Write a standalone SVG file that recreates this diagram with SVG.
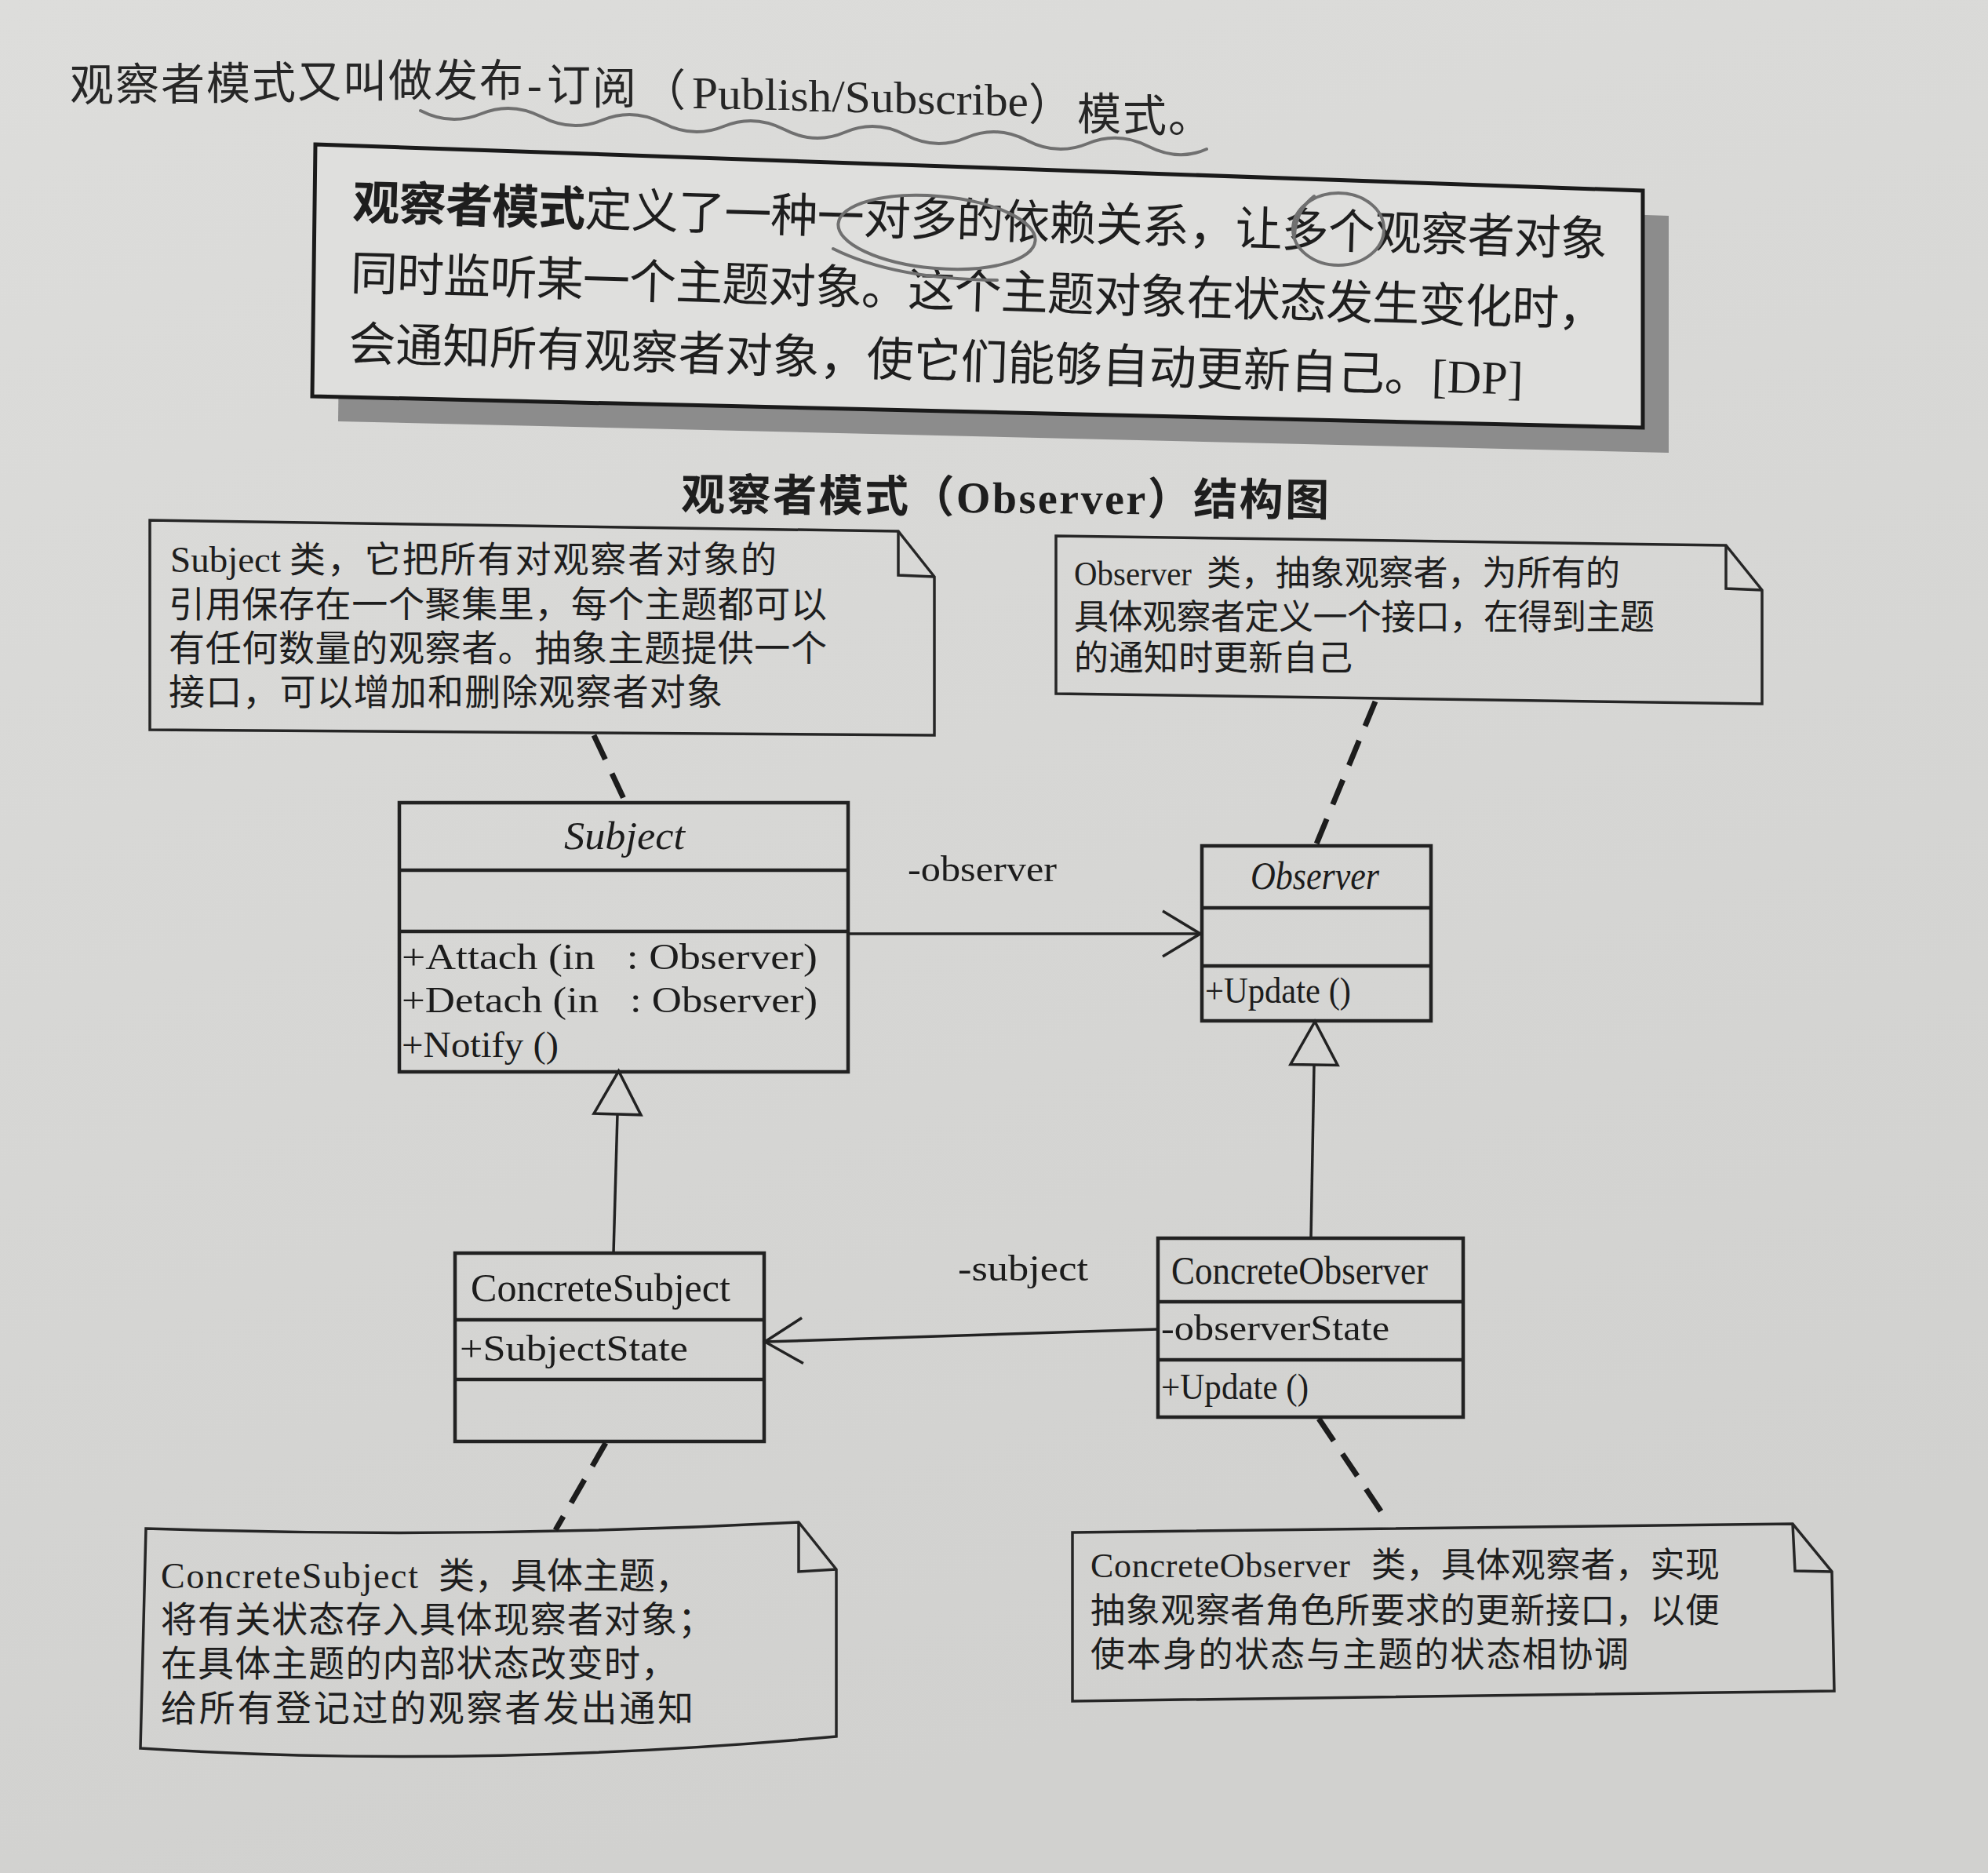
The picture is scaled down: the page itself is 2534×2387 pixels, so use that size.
<svg xmlns="http://www.w3.org/2000/svg" width="2534" height="2387" viewBox="0 0 2534 2387">
<defs>
<style>
.cjk{font-family:"Liberation Sans","Noto Sans CJK SC",sans-serif;fill:#1e1e1e}
.lat{font-family:"Liberation Serif",serif}
.uml{font-family:"Liberation Serif","Noto Sans CJK SC",serif;fill:#1c1c1c;font-size:46px;white-space:pre}
.name{font-family:"Liberation Serif",serif;fill:#1c1c1c;font-size:50px}
.box{fill:none;stroke:#222;stroke-width:4.5}
.sep{stroke:#222;stroke-width:4.5}
.note{fill:none;stroke:#262626;stroke-width:3.5;stroke-linejoin:miter}
.dash{stroke:#1c1c1c;stroke-width:7;stroke-dasharray:34 20;fill:none}
.link{stroke:#222;stroke-width:3.5;fill:none}
.pen{stroke:#707070;stroke-width:4;fill:none;stroke-linecap:round}
</style>
<linearGradient id="paper" x1="0" y1="0" x2="0.3" y2="1">
<stop offset="0" stop-color="#dddddb"/>
<stop offset="1" stop-color="#d1d1cf"/>
</linearGradient>
<marker id="open" viewBox="-54 -34 60 68" refX="0" refY="0" markerWidth="60" markerHeight="68" orient="auto" markerUnits="userSpaceOnUse">
<path d="M-48,-29 L0,0 L-48,29" fill="none" stroke="#222" stroke-width="3.5"/>
</marker>
<marker id="tri" viewBox="-4 -34 64 68" refX="0" refY="0" markerWidth="64" markerHeight="68" orient="auto" markerUnits="userSpaceOnUse">
<path d="M0,-30 L55,0 L0,30 Z" fill="none" stroke="#222" stroke-width="3.5"/>
</marker>
</defs>

<rect x="0" y="0" width="2534" height="2387" fill="url(#paper)"/>

<g id="heading">
<text font-size="56" fill="#262626" style="font-family:'Liberation Serif','Noto Sans CJK SC',serif"><tspan x="89 147 205 263 321 379 437 495 553 611" y="128 127 127 126 125 124 123 122 122 122">观察者模式又叫做发布</tspan><tspan x="672" y="127">-</tspan><tspan x="697 755" y="128 132">订阅</tspan><tspan x="818" y="135">（</tspan><tspan x="882" y="138 138.6 139.2 139.8 140.4 141 141.6 142.2 142.8 143.4 144 144.6 145.2 145.8 146.4 147 147.6" textLength="429" lengthAdjust="spacingAndGlyphs">Publish/Subscribe</tspan><tspan x="1311" y="153">）</tspan><tspan x="1373 1431 1489" y="165 167 168">模式。</tspan></text>
</g>

<g id="definition">
<path d="M435,216 L2127,275 L2127,577 L431,537 Z" fill="#8c8c8c"/>
<path d="M402,184 L2094,243 L2094,545 L398,505 Z" fill="#dfdfdd" stroke="#1a1a1a" stroke-width="5"/>
<text class="cjk" font-size="60" transform="rotate(1.68 449 279)"><tspan x="449" y="279" textLength="1600" lengthAdjust="spacing"><tspan font-weight="bold">观察者模式</tspan>定义了一种一对多的依赖关系，让多个观察者对象</tspan><tspan x="449" y="369" textLength="1600" lengthAdjust="spacing">同时监听某一个主题对象。这个主题对象在状态发生变化时，</tspan><tspan x="449" y="459" textLength="1498" lengthAdjust="spacing">会通知所有观察者对象，使它们能够自动更新自己。<tspan class="lat">[DP]</tspan></tspan></text>
</g>

<g id="annotations">
<path class="pen" transform="translate(0,3)" d="M536,138 Q574.7,158 613.3,142 T690.6,146 T767.9,150 T845.2,154 T922.5,158 T999.8,162 T1077.1,165.5 T1154.4,169 T1231.7,172.5 T1309,176 T1386.3,180 T1463.6,183.5 T1538,187"/>
<ellipse class="pen" cx="1194" cy="296" rx="126" ry="46" transform="rotate(5 1194 296)"/>
<path class="pen" d="M1062,317 Q1140,356 1271,357"/>
<ellipse class="pen" cx="1706" cy="292" rx="58" ry="46"/>
<path class="pen" d="M1675,250 Q1652,268 1650,300"/>
</g>

<g id="title">
<text class="cjk" x="868" y="650" font-size="56" font-weight="bold" textLength="826" lengthAdjust="spacing" transform="rotate(0.5 868 650)" style="font-family:'Liberation Serif','Noto Sans CJK SC',serif">观察者模式（Observer）结构图</text>
</g>

<g id="subject-note">
<path class="note" d="M191,663 L1145,677 L1191,735 L1191,937 L191,930 Z"/>
<path class="note" d="M1145,677 L1145,733 L1191,735"/>
<text class="cjk" font-size="46"><tspan class="lat" x="217" y="729" textLength="141" lengthAdjust="spacingAndGlyphs">Subject</tspan><tspan x="369" y="729" textLength="621" lengthAdjust="spacing">类，它把所有对观察者对象的</tspan><tspan x="215" y="786" textLength="839" lengthAdjust="spacing">引用保存在一个聚集里，每个主题都可以</tspan><tspan x="215" y="842" textLength="839" lengthAdjust="spacing">有任何数量的观察者。抽象主题提供一个</tspan><tspan x="215" y="898" textLength="706" lengthAdjust="spacing">接口，可以增加和删除观察者对象</tspan></text>
</g>

<g id="observer-note">
<path class="note" d="M1346,683 L2200,695 L2246,752 L2246,897 L1346,884 Z"/>
<path class="note" d="M2200,695 L2200,750 L2246,752"/>
<text class="cjk" font-size="44"><tspan class="lat" x="1369" y="746" textLength="150" lengthAdjust="spacingAndGlyphs">Observer</tspan><tspan x="1538" y="746" textLength="527" lengthAdjust="spacing">类，抽象观察者，为所有的</tspan><tspan x="1369" y="802" textLength="740" lengthAdjust="spacing">具体观察者定义一个接口，在得到主题</tspan><tspan x="1369" y="854" textLength="355" lengthAdjust="spacing">的通知时更新自己</tspan></text>
</g>

<g id="subject">
<rect class="box" x="509" y="1023" width="572" height="343"/>
<line class="sep" x1="509" y1="1109" x2="1081" y2="1109"/>
<line class="sep" x1="509" y1="1187" x2="1081" y2="1187"/>
<text class="name" x="719" y="1082" font-style="italic" textLength="154" lengthAdjust="spacingAndGlyphs">Subject</text>
<text class="uml" x="512" y="1235" textLength="530" lengthAdjust="spacingAndGlyphs">+Attach (in   : Observer)</text>
<text class="uml" x="512" y="1290" textLength="530" lengthAdjust="spacingAndGlyphs">+Detach (in   : Observer)</text>
<text class="uml" x="512" y="1347" textLength="200" lengthAdjust="spacingAndGlyphs">+Notify ()</text>
</g>

<g id="observer">
<rect class="box" x="1532" y="1078" width="292" height="223"/>
<line class="sep" x1="1532" y1="1157" x2="1824" y2="1157"/>
<line class="sep" x1="1532" y1="1231" x2="1824" y2="1231"/>
<text class="name" x="1594" y="1133" font-style="italic" textLength="164" lengthAdjust="spacingAndGlyphs">Observer</text>
<text class="uml" x="1536" y="1278" textLength="186" lengthAdjust="spacingAndGlyphs">+Update ()</text>
</g>

<g id="concrete-subject">
<rect class="box" x="580" y="1597" width="394" height="240"/>
<line class="sep" x1="580" y1="1682" x2="974" y2="1682"/>
<line class="sep" x1="580" y1="1758" x2="974" y2="1758"/>
<text class="name" x="600" y="1658" textLength="331" lengthAdjust="spacingAndGlyphs">ConcreteSubject</text>
<text class="uml" x="586" y="1734" textLength="291" lengthAdjust="spacingAndGlyphs">+SubjectState</text>
</g>

<g id="concrete-observer">
<rect class="box" x="1476" y="1578" width="389" height="228"/>
<line class="sep" x1="1476" y1="1659" x2="1865" y2="1659"/>
<line class="sep" x1="1476" y1="1733" x2="1865" y2="1733"/>
<text class="name" x="1493" y="1636" textLength="327" lengthAdjust="spacingAndGlyphs">ConcreteObserver</text>
<text class="uml" x="1480" y="1708" textLength="291" lengthAdjust="spacingAndGlyphs">-observerState</text>
<text class="uml" x="1480" y="1783" textLength="188" lengthAdjust="spacingAndGlyphs">+Update ()</text>
</g>

<g id="concrete-subject-note">
<path class="note" d="M186,1948 Q600,1962 1018,1940 L1066,2000 L1066,2213 Q600,2255 179,2228 Z"/>
<path class="note" d="M1018,1940 L1018,2003 L1066,2000"/>
<text class="cjk" font-size="46"><tspan class="lat" x="205" y="2024" textLength="328" lengthAdjust="spacing">ConcreteSubject</tspan><tspan x="559" y="2024" textLength="322" lengthAdjust="spacing">类，具体主题，</tspan><tspan x="205" y="2080" textLength="705" lengthAdjust="spacing">将有关状态存入具体现察者对象；</tspan><tspan x="205" y="2136" textLength="658" lengthAdjust="spacing">在具体主题的内部状态改变时，</tspan><tspan x="205" y="2193" textLength="679" lengthAdjust="spacing">给所有登记过的观察者发出通知</tspan></text>
</g>

<g id="concrete-observer-note">
<path class="note" d="M1367,1953 L2285,1942 L2335,2003 L2338,2155 L1367,2168 Z"/>
<path class="note" d="M2285,1942 L2288,2002 L2335,2003"/>
<text class="cjk" font-size="44"><tspan class="lat" x="1390" y="2010" textLength="331" lengthAdjust="spacing">ConcreteObserver</tspan><tspan x="1748" y="2010" textLength="444" lengthAdjust="spacing">类，具体观察者，实现</tspan><tspan x="1390" y="2068" textLength="802" lengthAdjust="spacing">抽象观察者角色所要求的更新接口，以便</tspan><tspan x="1390" y="2124" textLength="686" lengthAdjust="spacing">使本身的状态与主题的状态相协调</tspan></text>
</g>

<g id="connectors">
<line class="link" x1="1081" y1="1190" x2="1530" y2="1190" marker-end="url(#open)"/>
<text class="uml" x="1157" y="1123" textLength="190" lengthAdjust="spacingAndGlyphs">-observer</text>
<line class="link" x1="1476" y1="1694" x2="975" y2="1710" marker-end="url(#open)"/>
<text class="uml" x="1221" y="1632" textLength="166" lengthAdjust="spacingAndGlyphs">-subject</text>
<line class="link" x1="782" y1="1597" x2="787" y2="1420" marker-end="url(#tri)"/>
<line class="link" x1="1671" y1="1578" x2="1675" y2="1357" marker-end="url(#tri)"/>
<line class="dash" x1="757" y1="937" x2="797" y2="1022"/>
<line class="dash" x1="1753" y1="894" x2="1677" y2="1078"/>
<line class="dash" x1="772" y1="1839" x2="708" y2="1950"/>
<line class="dash" x1="1681" y1="1808" x2="1771" y2="1942"/>
</g>
</svg>
